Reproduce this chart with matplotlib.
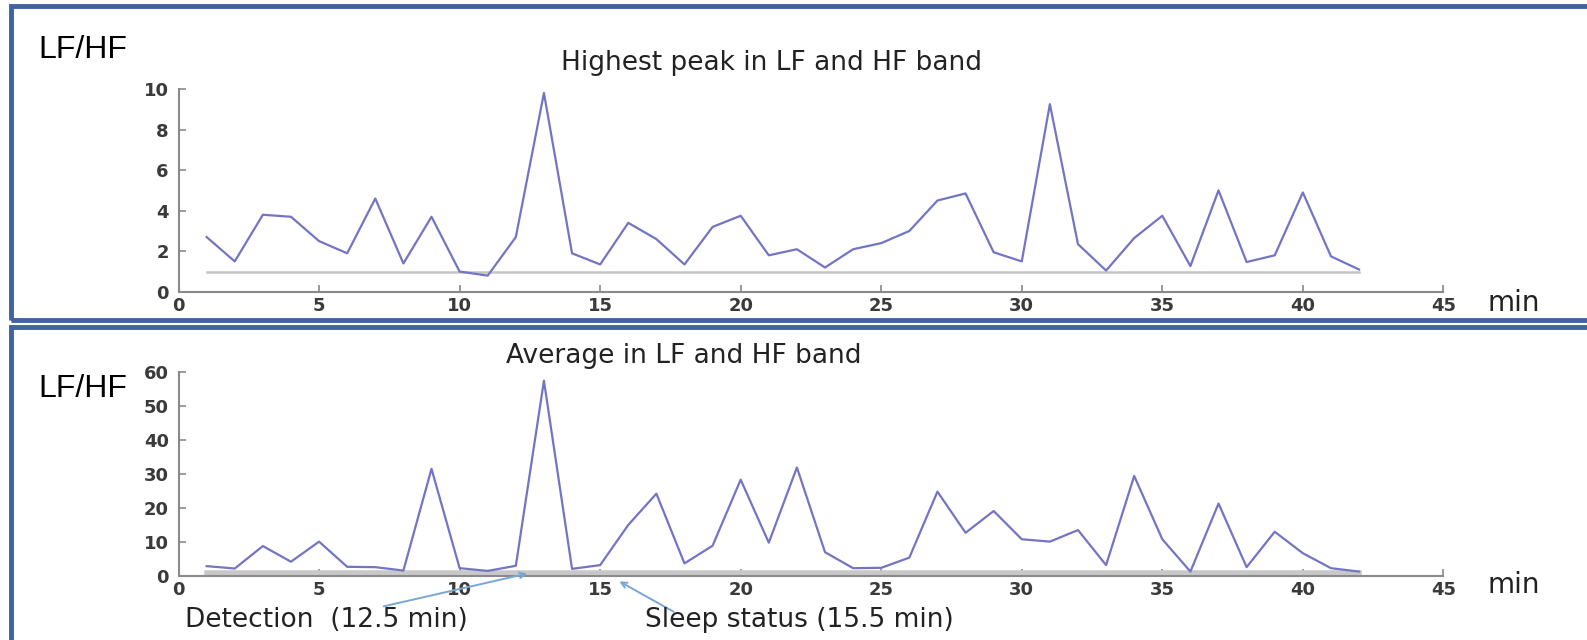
import matplotlib.pyplot as plt
from matplotlib.patches import Rectangle
import numpy as np

# Data
minutes = np.arange(1, 43)

peak_ratio = [2.7, 1.5, 3.8, 3.7, 2.5, 1.9, 4.6, 1.4, 3.7, 1.0,
              0.8, 2.7, 9.8, 1.9, 1.35, 3.4, 2.6, 1.35, 3.2, 3.75,
              1.8, 2.1, 1.2, 2.1, 2.4, 3.0, 4.5, 4.85, 1.95, 1.5,
              9.25, 2.35, 1.05, 2.65, 3.75, 1.27, 5.0, 1.47, 1.8, 4.9,
              1.75, 1.1]

avg_ratio = [2.9, 2.2, 8.8, 4.2, 10.1, 2.7, 2.6, 1.6, 31.5, 2.3,
             1.5, 3.0, 57.4, 2.1, 3.2, 15.0, 24.2, 3.7, 8.9, 28.3,
             9.8, 31.9, 7.0, 2.3, 2.4, 5.4, 24.8, 12.7, 19.1, 10.8,
             10.1, 13.5, 3.2, 29.4, 10.8, 1.3, 21.3, 2.6, 13.0, 6.7,
             2.3, 1.3]

threshold = 1
detection_min = 12.5
sleep_min = 15.5

line_color = '#7474c4'
tick_color = '#3a3a3a'
spine_color = '#8a8a8a'
text_color = '#222222'

fig = plt.figure(figsize=(15.87, 6.4), dpi=100)

# panel frames
for y0, h in [(0.5, 0.4906), (-0.02, 0.509)]:
    fig.patches.append(Rectangle((0.0069, y0), 1.05, h, transform=fig.transFigure,
                                 fill=False, edgecolor='#3f62a0', linewidth=3.5))

ax1 = fig.add_axes([0.1125, 0.544, 0.797, 0.317])
ax2 = fig.add_axes([0.1125, 0.100, 0.797, 0.319])


def style(ax, ymax, ystep):
    ax.set_xlim(0, 45)
    ax.set_ylim(0, ymax)
    ax.set_xticks(np.arange(0, 46, 5))
    ax.set_yticks(np.arange(0, ymax + 1, ystep))
    for s in ['top', 'right']:
        ax.spines[s].set_visible(False)
    for s in ['left', 'bottom']:
        ax.spines[s].set_color(spine_color)
        ax.spines[s].set_linewidth(1.5)
    ax.tick_params(direction='in', length=5, color=spine_color, width=1.2,
                   labelsize=13, labelcolor=tick_color)
    ax.tick_params(axis='y', pad=7)
    for lab in ax.get_xticklabels() + ax.get_yticklabels():
        lab.set_fontweight('bold')


ax1.plot(minutes, peak_ratio, color=line_color, lw=1.6, zorder=3)
ax1.plot([minutes[0], minutes[-1]], [threshold, threshold], color='#c4c4c4', lw=1.8, zorder=2)
style(ax1, 10, 2)

ax2.plot(minutes, avg_ratio, color=line_color, lw=1.6, zorder=3)
ax2.plot([minutes[0], minutes[-1]], [threshold, threshold], color='#c8c8c8', lw=4, zorder=2)
style(ax2, 60, 10)

title_kw = dict(fontsize=19, color=text_color, ha='center', va='center')
fig.text(0.486, 0.9016, 'Highest peak in LF and HF band', **title_kw)
fig.text(0.431, 0.444, 'Average in LF and HF band', **title_kw)

lab_kw = dict(fontsize=23, family='Liberation Sans', color='black', ha='left', va='center')
fig.text(0.024, 0.922, 'LF/HF', **lab_kw)
fig.text(0.024, 0.392, 'LF/HF', **lab_kw)

fig.text(0.9376, 0.527, 'min', fontsize=20, color=text_color, ha='left', va='center')
fig.text(0.9376, 0.086, 'min', fontsize=20, color=text_color, ha='left', va='center')

# annotations
arrow_kw = dict(arrowstyle='->', color='#7aa6d6', lw=1.4)
ax2.annotate('', xy=(detection_min, 0.9), xytext=(7.2, -9.1),
             arrowprops=arrow_kw, annotation_clip=False)
ax2.annotate('', xy=(sleep_min + 0.1, -1.2), xytext=(17.7, -10.9),
             arrowprops=arrow_kw, annotation_clip=False)
fig.text(0.1166, 0.031, 'Detection  (12.5 min)', fontsize=19, color=text_color,
         ha='left', va='center')
fig.text(0.4064, 0.031, 'Sleep status (15.5 min)', fontsize=19, color=text_color,
         ha='left', va='center')

fig.savefig('out.png', dpi=100)
